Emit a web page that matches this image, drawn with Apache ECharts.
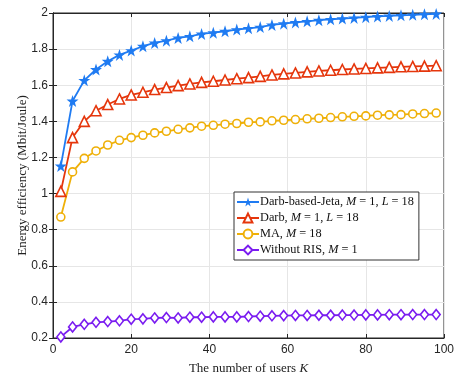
<!DOCTYPE html>
<html style="height: 100%">
<head>
    <meta charset="utf-8">
    <script src="https://cdn.jsdelivr.net/npm/echarts@6/dist/echarts.min.js"></script>
</head>
<body style="height: 100%; margin: 0; background: #fff">
<div id="container" style="width: 471px; height: 384px"></div>
<script type="text/javascript">
var users = [2, 5, 8, 11, 14, 17, 20, 23, 26, 29, 32, 35, 38, 41, 44, 47, 50,
             53, 56, 59, 62, 65, 68, 71, 74, 77, 80, 83, 86, 89, 92, 95, 98];

var jeta = [1.153, 1.513, 1.627, 1.687, 1.733, 1.768, 1.792, 1.816, 1.834, 1.847, 1.862, 1.871, 1.884,
            1.891, 1.899, 1.908, 1.915, 1.922, 1.934, 1.941, 1.948, 1.954, 1.960, 1.965, 1.969, 1.973,
            1.977, 1.981, 1.984, 1.987, 1.990, 1.993, 1.995];
var darb = [1.012, 1.310, 1.400, 1.459, 1.493, 1.524, 1.546, 1.561, 1.576, 1.587, 1.598, 1.607, 1.616,
            1.622, 1.629, 1.636, 1.642, 1.649, 1.657, 1.663, 1.668, 1.674, 1.679, 1.683, 1.687, 1.690,
            1.693, 1.696, 1.699, 1.702, 1.704, 1.706, 1.708];
var ma = [0.870, 1.120, 1.195, 1.236, 1.269, 1.295, 1.310, 1.323, 1.336, 1.345, 1.356, 1.364, 1.373,
          1.378, 1.384, 1.388, 1.395, 1.397, 1.403, 1.406, 1.410, 1.414, 1.417, 1.421, 1.425, 1.428,
          1.430, 1.434, 1.436, 1.437, 1.441, 1.443, 1.446];
var noRis = [0.206, 0.261, 0.276, 0.287, 0.291, 0.295, 0.304, 0.306, 0.311, 0.313, 0.311, 0.315, 0.315,
             0.317, 0.317, 0.317, 0.319, 0.321, 0.323, 0.324, 0.325, 0.325, 0.326, 0.326, 0.327, 0.327,
             0.328, 0.328, 0.329, 0.329, 0.330, 0.330, 0.330];

var names = ['Darb-based-Jeta', 'Darb', 'MA', 'Without RIS'];
var legendLabels = {
    'Darb-based-Jeta': '{t|Darb-based-Jeta, }{i|M}{t| = 1, }{i|L}{t| = 18}',
    'Darb': '{t|Darb, }{i|M}{t| = 1, }{i|L}{t| = 18}',
    'MA': '{t|MA, }{i|M}{t| = 18}',
    'Without RIS': '{t|Without RIS, }{i|M}{t| = 1}'
};

var star = 'path://M50,0 L61.8,35.3 L98.5,35.3 L68.9,57.1 L79.4,92 L50,70.6 L20.6,92 L31.1,57.1 L1.5,35.3 L38.2,35.3 Z';

function pairs(ys) {
    var res = [];
    for (var i = 0; i < users.length; i++) {
        res.push([users[i], ys[i]]);
    }
    return res;
}

function makeSeries(name, ys, color, symbol, size, filled) {
    return {
        name: name,
        type: 'line',
        data: pairs(ys),
        symbol: symbol,
        symbolSize: size,
        showAllSymbol: true,
        color: color,
        lineStyle: { color: color, width: 1.8 },
        itemStyle: filled
            ? { color: color, borderWidth: 0 }
            : { color: '#fff', borderColor: color, borderWidth: 1.6 },
        animation: false,
        z: 3
    };
}

var dom = document.getElementById('container');
var myChart = echarts.init(dom);

var option = {
    backgroundColor: '#fff',
    grid: { left: 53, right: 27, top: 13, bottom: 46, show: true, borderColor: '#262626', borderWidth: 1 },
    legend: {
        orient: 'vertical',
        left: 234,
        top: 192,
        data: names,
        backgroundColor: '#fff',
        borderColor: '#333',
        borderWidth: 1,
        borderRadius: 0,
        padding: [4, 5, 4, 2],
        itemGap: 4,
        itemWidth: 22,
        itemHeight: 11,
        formatter: function (name) { return legendLabels[name]; },
        textStyle: {
            fontFamily: 'Liberation Serif',
            fontSize: 12.3,
            color: '#111',
            padding: [0, 0, 0, -4],
            rich: {
                t: { fontFamily: 'Liberation Serif', fontSize: 12.3, color: '#111' },
                i: { fontFamily: 'Liberation Serif', fontSize: 12.3, fontStyle: 'italic', color: '#111' }
            }
        }
    },
    xAxis: [{
        type: 'value',
        min: 0, max: 100, interval: 20,
        name: '{t|The number of users }{i|K}',
        nameLocation: 'middle',
        nameGap: 24,
        nameMoveOverlap: false,
        nameTextStyle: {
            rich: {
                t: { fontFamily: 'Liberation Serif', fontSize: 13, color: '#222' },
                i: { fontFamily: 'Liberation Serif', fontSize: 13, fontStyle: 'italic', color: '#222' }
            }
        },
        axisLine: { show: true, lineStyle: { color: '#262626' } },
        axisTick: { inside: true, length: 4, lineStyle: { color: '#262626' } },
        axisLabel: { fontFamily: 'Liberation Sans', fontSize: 12, color: '#262626', margin: 6 },
        splitLine: { show: true, lineStyle: { color: '#e6e6e6' } }
    }, {
        type: 'value',
        position: 'top',
        min: 0, max: 100, interval: 20,
        axisLine: { show: true, lineStyle: { color: '#262626' } },
        axisTick: { inside: true, length: 4, lineStyle: { color: '#262626' } },
        axisLabel: { show: false },
        splitLine: { show: false }
    }],
    yAxis: [{
        type: 'value',
        min: 0.2, max: 2, interval: 0.2,
        name: 'Energy efficiency (Mbit/Joule)',
        nameLocation: 'middle',
        nameGap: 24,
        nameMoveOverlap: false,
        nameTextStyle: { fontFamily: 'Liberation Serif', fontSize: 13, color: '#222' },
        axisLine: { show: true, lineStyle: { color: '#262626' } },
        axisTick: { inside: true, length: 4, lineStyle: { color: '#262626' } },
        axisLabel: { fontFamily: 'Liberation Sans', fontSize: 12, color: '#262626', margin: 5 },
        splitLine: { show: true, lineStyle: { color: '#e6e6e6' } }
    }, {
        type: 'value',
        position: 'right',
        min: 0.2, max: 2, interval: 0.2,
        axisLine: { show: true, lineStyle: { color: '#262626' } },
        axisTick: { inside: true, length: 4, lineStyle: { color: '#262626' } },
        axisLabel: { show: false },
        splitLine: { show: false }
    }],
    series: [
        makeSeries(names[0], jeta, '#1f7bf2', star, 12, true),
        makeSeries(names[1], darb, '#e5360c', 'triangle', 10, false),
        makeSeries(names[2], ma, '#efb008', 'circle', 8, false),
        makeSeries(names[3], noRis, '#7a1cf0', 'diamond', [8, 10], false)
    ]
};

myChart.setOption(option);
</script>
</body>
</html>
